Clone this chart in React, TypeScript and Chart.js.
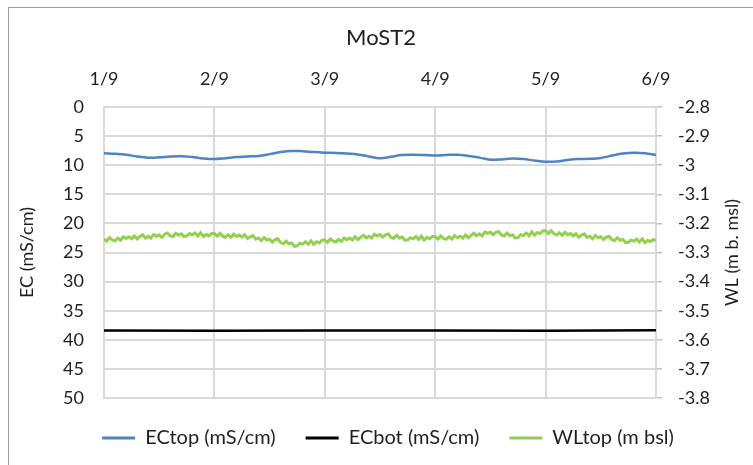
import React, { useEffect, useRef } from "react";
import { Chart, registerables } from "chart.js";

Chart.register(...registerables);

// ---------- data ----------
const chartTitle = "MoST2";
const leftAxisTitle = "EC (mS/cm)";
const rightAxisTitle = "WL (m b. msl)";
const dayMonth = "9";

const ecTopLabel = "ECtop (mS/cm)";
const ecBotLabel = "ECbot (mS/cm)";
const wlTopLabel = "WLtop (m bsl)";

// ECtop: day of month -> EC (mS/cm)
const ecTopDays = [
  1.0, 1.1, 1.2, 1.3, 1.4, 1.5, 1.6, 1.7, 1.8, 1.9,
  2.0, 2.1, 2.2, 2.3, 2.4, 2.5, 2.6, 2.7, 2.8, 2.9,
  3.0, 3.1, 3.2, 3.3, 3.4, 3.5, 3.6, 3.7, 3.8, 3.9,
  4.0, 4.1, 4.2, 4.3, 4.4, 4.5, 4.6, 4.7, 4.8, 4.9,
  5.0, 5.1, 5.2, 5.3, 5.4, 5.5, 5.6, 5.7, 5.8, 5.9, 6.0,
];
const ecTopValues = [
  7.95, 8.05, 8.2, 8.5, 8.7, 8.65, 8.5, 8.45, 8.6, 8.85,
  8.95, 8.8, 8.6, 8.5, 8.4, 8.1, 7.75, 7.55, 7.6, 7.75,
  7.85, 7.9, 8.0, 8.15, 8.5, 8.8, 8.55, 8.25, 8.2, 8.25,
  8.35, 8.25, 8.2, 8.4, 8.7, 9.05, 9.0, 8.85, 8.95, 9.2,
  9.4, 9.35, 9.1, 8.95, 8.9, 8.75, 8.35, 8.0, 7.85, 7.95, 8.25,
];

// ECbot: day of month -> EC (mS/cm)
const ecBotDays = [1, 2, 3, 4, 5, 6];
const ecBotValues = [38.4, 38.45, 38.4, 38.4, 38.45, 38.35];

// WLtop: logged every 0.025 day from 1/9, water level (m)
const wlStartDay = 1;
const wlStepDays = 0.025;
const wlTopValues = [
  -3.253, -3.261, -3.249, -3.257, -3.26, -3.251, -3.258, -3.246, -3.252, -3.246,
  -3.253, -3.243, -3.253, -3.245, -3.239, -3.25, -3.244, -3.251, -3.238, -3.244,
  -3.24, -3.248, -3.237, -3.233, -3.243, -3.245, -3.234, -3.241, -3.236, -3.245,
  -3.243, -3.235, -3.239, -3.233, -3.243, -3.232, -3.245, -3.238, -3.243, -3.235,
  -3.235, -3.244, -3.234, -3.243, -3.248, -3.239, -3.248, -3.237, -3.245, -3.24,
  -3.247, -3.239, -3.252, -3.246, -3.242, -3.254, -3.25, -3.259, -3.249, -3.257,
  -3.254, -3.264, -3.256, -3.253, -3.266, -3.27, -3.261, -3.27, -3.267, -3.279,
  -3.277, -3.268, -3.271, -3.263, -3.272, -3.26, -3.272, -3.263, -3.267, -3.258,
  -3.257, -3.265, -3.253, -3.261, -3.264, -3.255, -3.262, -3.25, -3.256, -3.25,
  -3.257, -3.246, -3.256, -3.247, -3.241, -3.25, -3.244, -3.25, -3.237, -3.243,
  -3.238, -3.247, -3.239, -3.236, -3.248, -3.251, -3.241, -3.25, -3.247, -3.258,
  -3.257, -3.249, -3.253, -3.245, -3.255, -3.244, -3.257, -3.248, -3.253, -3.245,
  -3.245, -3.254, -3.243, -3.252, -3.255, -3.246, -3.254, -3.242, -3.249, -3.244,
  -3.251, -3.24, -3.249, -3.241, -3.234, -3.243, -3.236, -3.243, -3.229, -3.234,
  -3.23, -3.239, -3.231, -3.228, -3.24, -3.243, -3.233, -3.242, -3.239, -3.25,
  -3.249, -3.239, -3.242, -3.233, -3.242, -3.229, -3.241, -3.231, -3.235, -3.226,
  -3.225, -3.235, -3.225, -3.235, -3.24, -3.232, -3.241, -3.231, -3.239, -3.235,
  -3.243, -3.235, -3.247, -3.24, -3.236, -3.248, -3.244, -3.253, -3.241, -3.249,
  -3.246, -3.255, -3.247, -3.244, -3.256, -3.259, -3.249, -3.258, -3.255, -3.266,
  -3.265, -3.257, -3.261, -3.254, -3.264, -3.253, -3.266, -3.258, -3.263, -3.255,
  -3.259,
];

// axis ranges
const xMin = 1;
const xMax = 6;
const ecMin = 0;
const ecMax = 50;
const ecStep = 5;
const wlMin = -3.8;
const wlMax = -2.8;
const wlStep = 0.1;

// ---------- styles ----------
const FONT = "Lato, 'Open Sans', sans-serif";
const TEXT = "#1f1f1f";
const GRID = "#d9d9d9";
const BLUE = "#4f83c2";
const BLACK = "#000000";
const GREEN = "#92d050";

const rightTitlePlugin = {
  id: "rightTitle",
  afterLayout(chart: any) {
    if (chart.legend) {
      chart.legend.left += 7;
      chart.legend.right += 7;
    }
  },
  afterDraw(chart: any) {
    const { ctx, chartArea } = chart;
    ctx.save();
    ctx.translate(chart.width - 21, (chartArea.top + chartArea.bottom) / 2);
    ctx.rotate(-Math.PI / 2);
    ctx.font = `18px ${FONT}`;
    ctx.fillStyle = TEXT;
    ctx.textAlign = "center";
    ctx.textBaseline = "middle";
    ctx.fillText(rightAxisTitle, 0, 0);
    ctx.restore();
  },
};

export default function App() {
  const ref = useRef<HTMLCanvasElement | null>(null);

  useEffect(() => {
    if (!ref.current) return;
    const ecTopData = ecTopDays.map((d, i) => ({ x: d, y: ecTopValues[i] }));
    const ecBotData = ecBotDays.map((d, i) => ({ x: d, y: ecBotValues[i] }));
    const wlTopData = wlTopValues.map((v, i) => ({ x: wlStartDay + i * wlStepDays, y: v }));

    const chart = new Chart(ref.current, {
      type: "line",
      data: {
        datasets: [
          {
            label: ecTopLabel,
            data: ecTopData,
            borderColor: BLUE,
            backgroundColor: BLUE,
            borderWidth: 2.5,
            pointRadius: 0,
            tension: 0.4,
            yAxisID: "y",
          },
          {
            label: ecBotLabel,
            data: ecBotData,
            borderColor: BLACK,
            backgroundColor: BLACK,
            borderWidth: 2.5,
            pointRadius: 0,
            tension: 0,
            yAxisID: "y",
          },
          {
            label: wlTopLabel,
            data: wlTopData,
            borderColor: GREEN,
            backgroundColor: GREEN,
            borderWidth: 3,
            pointRadius: 0,
            tension: 0,
            yAxisID: "y2",
          },
        ],
      },
      options: {
        animation: false,
        responsive: false,
        maintainAspectRatio: false,
        layout: { padding: { top: 0, left: 0, right: 0, bottom: 7 } },
        plugins: {
          title: {
            display: true,
            text: chartTitle,
            color: TEXT,
            font: { family: FONT, size: 22, weight: "normal" },
            padding: { top: 17, bottom: 0 },
          },
          legend: {
            display: true,
            position: "bottom",
            labels: {
              color: TEXT,
              font: { family: FONT, size: 20 },
              boxWidth: 33,
              boxHeight: 3,
              padding: 30,
              generateLabels: (c: any) =>
                Chart.defaults.plugins.legend.labels
                  .generateLabels(c)
                  .map((l: any) => ({ ...l, lineWidth: 0, fillStyle: l.strokeStyle })),
            },
          },
          tooltip: { enabled: false },
        },
        scales: {
          x: {
            type: "linear",
            position: "top",
            min: xMin,
            max: xMax,
            ticks: {
              stepSize: 1,
              color: TEXT,
              font: { family: FONT, size: 18 },
              padding: 17,
              maxRotation: 0,
              callback: (v: any) => `${v}/${dayMonth}`,
            },
            grid: { color: GRID, lineWidth: 2, drawTicks: false },
            border: { display: true, color: GRID, width: 2 },
            afterFit: (s: any) => {
              s.height = 55.6;
            },
          },
          y: {
            type: "linear",
            position: "left",
            reverse: true,
            min: ecMin,
            max: ecMax,
            ticks: {
              stepSize: ecStep,
              color: TEXT,
              font: { family: FONT, size: 18 },
              padding: 20,
            },
            grid: { color: GRID, lineWidth: 2, drawTicks: false },
            border: { display: true, color: GRID, width: 2 },
            title: {
              display: true,
              text: leftAxisTitle,
              color: TEXT,
              font: { family: FONT, size: 18 },
              padding: { top: 7, bottom: 0 },
            },
            afterFit: (s: any) => {
              s.width = 95;
            },
          },
          y2: {
            type: "linear",
            position: "right",
            min: wlMin,
            max: wlMax,
            ticks: {
              stepSize: wlStep,
              color: TEXT,
              font: { family: FONT, size: 18 },
              padding: 16,
              callback: (v: any) => String(Math.round(Number(v) * 10) / 10),
            },
            grid: {
              drawOnChartArea: false,
              drawTicks: true,
              tickLength: 6,
              color: "#bfbfbf",
              lineWidth: 1.5,
            },
            border: { display: true, color: GRID, width: 2 },
            afterFit: (s: any) => {
              s.width = 97;
            },
          },
        },
      },
      plugins: [rightTitlePlugin],
    } as any);
    return () => chart.destroy();
  }, []);

  return (
    <div
      style={{
        position: "absolute",
        left: 8,
        top: 7,
        width: 745,
        height: 458,
        borderTop: "1.5px solid #a0a0a0",
        borderLeft: "1.5px solid #a0a0a0",
        boxSizing: "border-box",
        background: "#fff",
        overflow: "hidden",
      }}
    >
      <canvas ref={ref} width={744} height={457} style={{ display: "block" }} />
    </div>
  );
}
